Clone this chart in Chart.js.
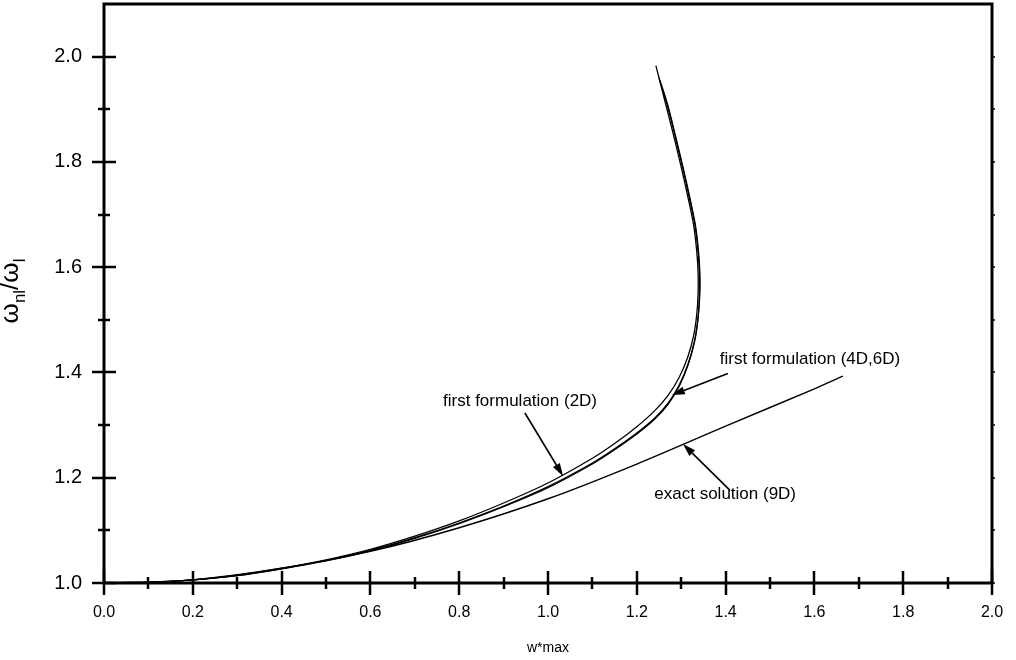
<!DOCTYPE html>
<html>
<head>
<meta charset="utf-8">
<script src="https://cdn.jsdelivr.net/npm/chart.js@4.4.1/dist/chart.umd.min.js"></script>
<style>
  html, body { margin: 0; padding: 0; background: #fff; }
  canvas { display: block; }
</style>
</head>
<body>
<canvas id="c" width="1016" height="660"></canvas>
<script>
// Backbone curves: nonlinear / linear frequency ratio against maximum amplitude
const wFirst2D = [0, 0.1, 0.2, 0.3, 0.4, 0.5, 0.6, 0.7, 0.8, 0.9, 1.0, 1.1, 1.15, 1.2, 1.24, 1.27, 1.295, 1.315, 1.328, 1.335, 1.338, 1.338, 1.335, 1.328, 1.316, 1.30, 1.283, 1.265, 1.243];
const rFirst2D = [1.0, 1.001, 1.006, 1.015, 1.028, 1.044, 1.064, 1.089, 1.118, 1.152, 1.190, 1.237, 1.265, 1.297, 1.327, 1.356, 1.39, 1.43, 1.47, 1.51, 1.55, 1.59, 1.63, 1.68, 1.73, 1.79, 1.85, 1.91, 1.983];

const wFirst4D = [0, 0.1, 0.2, 0.3, 0.4, 0.5, 0.6, 0.7, 0.8, 0.9, 1.0, 1.1, 1.15, 1.2, 1.24, 1.27, 1.295, 1.315, 1.33, 1.338, 1.341, 1.341, 1.338, 1.331, 1.319, 1.303, 1.286, 1.268, 1.25];
const rFirst4D = [1.0, 1.001, 1.006, 1.014, 1.027, 1.043, 1.062, 1.086, 1.114, 1.146, 1.183, 1.228, 1.255, 1.285, 1.313, 1.341, 1.375, 1.415, 1.46, 1.505, 1.55, 1.59, 1.63, 1.68, 1.73, 1.79, 1.85, 1.91, 1.96];

const wFirst6D = [0, 0.1, 0.2, 0.3, 0.4, 0.5, 0.6, 0.7, 0.8, 0.9, 1.0, 1.1, 1.15, 1.2, 1.24, 1.27, 1.295, 1.315, 1.33, 1.338, 1.342, 1.342, 1.339, 1.332, 1.32, 1.304, 1.287, 1.269, 1.252];
const rFirst6D = [1.0, 1.001, 1.006, 1.014, 1.027, 1.042, 1.061, 1.085, 1.113, 1.145, 1.181, 1.226, 1.253, 1.283, 1.311, 1.339, 1.373, 1.413, 1.458, 1.503, 1.55, 1.59, 1.63, 1.68, 1.73, 1.79, 1.85, 1.91, 1.955];

const wExact = [0, 0.2, 0.4, 0.6, 0.8, 1.0, 1.2, 1.4, 1.6, 1.664];
const rExact = [1.0, 1.006, 1.028, 1.060, 1.105, 1.160, 1.226, 1.298, 1.369, 1.393];

const xTickValues = [0, 0.2, 0.4, 0.6, 0.8, 1.0, 1.2, 1.4, 1.6, 1.8, 2.0];
const yTickValues = [1.0, 1.2, 1.4, 1.6, 1.8, 2.0];

// Callout labels with arrows (data coordinates)
const callouts = [
  { text: 'first formulation (2D)', tx: 0.937, ty: 1.345, from: [0.948, 1.323], to: [1.034, 1.203] },
  { text: 'first formulation (4D,6D)', tx: 1.590, ty: 1.425, from: [1.405, 1.398], to: [1.279, 1.357] },
  { text: 'exact solution (9D)', tx: 1.399, ty: 1.169, from: [1.410, 1.176], to: [1.304, 1.264] }
];

const FONT = '"Liberation Sans", Arial, sans-serif';

function pts(xs, ys) { return xs.map((x, i) => ({ x: x, y: ys[i] })); }

function curve(label, xs, ys, width) {
  return {
    label: label,
    data: pts(xs, ys),
    showLine: true,
    borderColor: '#000',
    borderWidth: width,
    pointRadius: 0,
    tension: 0.3,
    fill: false
  };
}

function noPad(s) {
  s.paddingTop = 0; s.paddingBottom = 0; s.paddingLeft = 0; s.paddingRight = 0;
}

const framePlugin = {
  id: 'frame',
  afterDraw(chart) {
    const ctx = chart.ctx;
    const a = chart.chartArea;
    const xs = chart.scales.x, ys = chart.scales.y;
    ctx.save();
    ctx.strokeStyle = '#000';
    ctx.lineCap = 'butt';

    // tick marks crossing the left and bottom axes
    ctx.lineWidth = 2.5;
    for (let i = 0; i <= 20; i++) {
      const v = i / 10;
      const px = Math.round(xs.getPixelForValue(v));
      const half = (i % 2 === 0) ? 12 : 6;
      ctx.beginPath(); ctx.moveTo(px, a.bottom - half); ctx.lineTo(px, a.bottom + half); ctx.stroke();
    }
    for (let i = 0; i <= 10; i++) {
      const v = 1 + i / 10;
      const py = Math.round(ys.getPixelForValue(v));
      const half = (i % 2 === 0) ? 12 : 6;
      ctx.beginPath(); ctx.moveTo(a.left - half, py); ctx.lineTo(a.left + half, py); ctx.stroke();
      // small nubs on the right axis
      ctx.lineWidth = 1.5;
      ctx.beginPath(); ctx.moveTo(a.right, py); ctx.lineTo(a.right + 3, py); ctx.stroke();
      ctx.lineWidth = 2.5;
    }

    // box frame
    ctx.lineWidth = 3;
    ctx.beginPath();
    ctx.moveTo(a.left, a.top); ctx.lineTo(a.right, a.top);
    ctx.lineTo(a.right, a.bottom); ctx.lineTo(a.left, a.bottom); ctx.closePath();
    ctx.stroke();

    // callouts
    ctx.fillStyle = '#000';
    ctx.font = '17px ' + FONT;
    ctx.textAlign = 'center';
    ctx.textBaseline = 'middle';
    callouts.forEach(c => {
      ctx.fillText(c.text, xs.getPixelForValue(c.tx), ys.getPixelForValue(c.ty));
      const x0 = xs.getPixelForValue(c.from[0]), y0 = ys.getPixelForValue(c.from[1]);
      const x1 = xs.getPixelForValue(c.to[0]), y1 = ys.getPixelForValue(c.to[1]);
      const ang = Math.atan2(y1 - y0, x1 - x0);
      const len = 13, wid = 4;
      const bx = x1 - len * Math.cos(ang), by = y1 - len * Math.sin(ang);
      ctx.lineWidth = 1.6;
      ctx.beginPath(); ctx.moveTo(x0, y0); ctx.lineTo(bx, by); ctx.stroke();
      ctx.beginPath();
      ctx.moveTo(x1, y1);
      ctx.lineTo(bx + wid * Math.sin(ang), by - wid * Math.cos(ang));
      ctx.lineTo(bx - wid * Math.sin(ang), by + wid * Math.cos(ang));
      ctx.closePath(); ctx.fill();
    });

    // axis titles
    ctx.font = '14px ' + FONT;
    ctx.textAlign = 'center';
    ctx.textBaseline = 'middle';
    ctx.fillText('w*max', (a.left + a.right) / 2, 648);

    // y title: omega_nl / omega_l, rotated
    const big = '26px ' + FONT, small = '17px ' + FONT;
    const parts = [
      { t: '\u03C9', f: big, dy: 0 },
      { t: 'nl', f: small, dy: 7 },
      { t: '/', f: big, dy: 0 },
      { t: '\u03C9', f: big, dy: 0 },
      { t: 'l', f: small, dy: 7 }
    ];
    let total = 0;
    parts.forEach(p => { ctx.font = p.f; p.w = ctx.measureText(p.t).width; total += p.w; });
    ctx.translate(18, 291);
    ctx.rotate(-Math.PI / 2);
    ctx.textAlign = 'left';
    ctx.textBaseline = 'alphabetic';
    let cx = -total / 2;
    parts.forEach(p => { ctx.font = p.f; ctx.fillText(p.t, cx, p.dy); cx += p.w; });
    ctx.restore();
  }
};

new Chart(document.getElementById('c'), {
  type: 'scatter',
  data: {
    datasets: [
      curve('first formulation (2D)', wFirst2D, rFirst2D, 1.3),
      curve('first formulation (4D)', wFirst4D, rFirst4D, 1.3),
      curve('first formulation (6D)', wFirst6D, rFirst6D, 1.3),
      curve('exact solution (9D)', wExact, rExact, 1.4)
    ]
  },
  options: {
    responsive: false,
    animation: false,
    events: [],
    layout: { padding: { left: 0, top: 4, right: 24, bottom: 0 } },
    plugins: { legend: { display: false }, tooltip: { enabled: false } },
    scales: {
      x: {
        type: 'linear', min: 0, max: 2,
        grid: { display: false, drawTicks: false },
        border: { display: false },
        afterFit(s) { s.height = 77; noPad(s); },
        afterBuildTicks(s) { s.ticks = xTickValues.map(v => ({ value: v })); },
        ticks: {
          padding: 20,
          color: '#000',
          font: { family: FONT, size: 16 },
          maxRotation: 0,
          callback: v => Number(v).toFixed(1)
        }
      },
      y: {
        type: 'linear', min: 1.0, max: 2.1,
        grid: { display: false, drawTicks: false },
        border: { display: false },
        afterFit(s) { s.width = 104; noPad(s); },
        afterBuildTicks(s) { s.ticks = yTickValues.map(v => ({ value: v })); },
        ticks: {
          padding: 22,
          color: '#000',
          font: { family: FONT, size: 20 },
          callback: v => Number(v).toFixed(1)
        }
      }
    }
  },
  plugins: [framePlugin]
});
</script>
</body>
</html>
